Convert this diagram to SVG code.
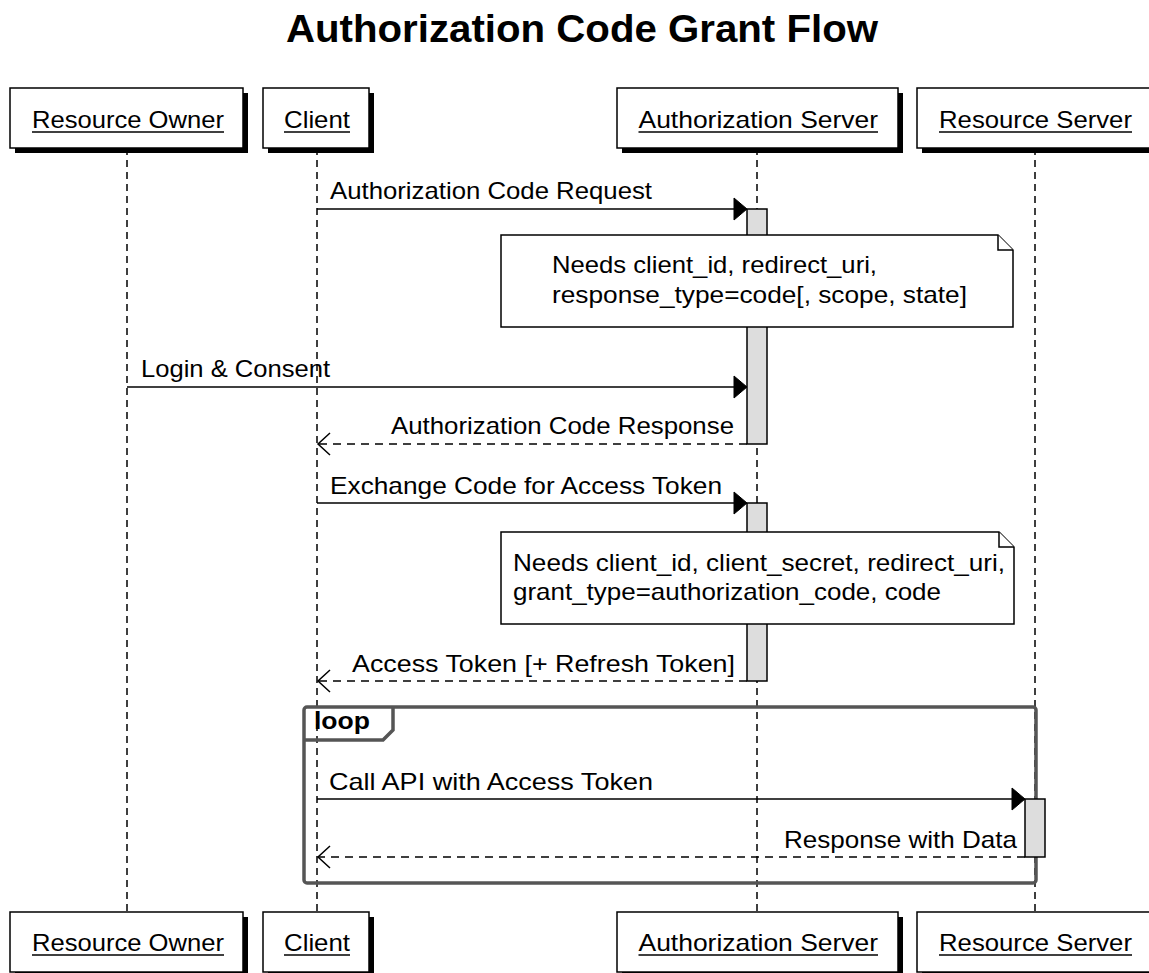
<svg xmlns="http://www.w3.org/2000/svg" width="1149" height="973" viewBox="0 0 1149 973">
<style>
  text { font-family: "Liberation Sans", Arial, sans-serif; fill: #000; }
  .title { font-size: 39px; font-weight: bold; }
  .pname { font-size: 24px; }
  .msg { font-size: 24px; }
  .note-t { font-size: 24px; }
  .loop-t { font-size: 24px; font-weight: bold; }
  .box { fill: #fff; stroke: #000; stroke-width: 1.5; }
  .shadow { fill: #000; }
  .ul { stroke: #000; stroke-width: 1.5; }
  .life { stroke: #000; stroke-width: 1.5; stroke-dasharray: 7 5; fill: none; }
  .sync { stroke: #000; stroke-width: 1.5; fill: none; }
  .ret { stroke: #000; stroke-width: 1.5; fill: none; stroke-dasharray: 8 6; }
  .head { fill: #000; stroke: #000; stroke-width: 1; }
  .open { fill: none; stroke: #000; stroke-width: 1.5; }
  .act { fill: #dddddd; stroke: #000; stroke-width: 1.5; }
  .note { fill: #fff; stroke: #000; stroke-width: 1.5; }
  .frame { fill: none; stroke: #555; stroke-width: 3.5; }
</style>

<text class="title" x="286" y="42" textLength="592" lengthAdjust="spacingAndGlyphs">Authorization Code Grant Flow</text>

<g id="lifelines">
  <line class="life" x1="127" y1="148" x2="127" y2="912"/>
  <line class="life" x1="317" y1="148" x2="317" y2="912"/>
  <line class="life" x1="757" y1="148" x2="757" y2="912"/>
  <line class="life" x1="1035" y1="148" x2="1035" y2="912"/>
</g>

<g id="loop-frame">
  <rect class="frame" x="304" y="707" width="732" height="176" rx="3"/>
  <path class="frame" d="M304,740 L383,740 L393,730 L393,707"/>
  <text class="loop-t" x="314" y="729" textLength="56" lengthAdjust="spacingAndGlyphs">loop</text>
</g>

<g id="activations">
  <rect class="act" x="747" y="209" width="20" height="235"/>
  <rect class="act" x="747" y="503" width="20" height="178"/>
  <rect class="act" x="1025" y="799" width="20" height="58"/>
</g>

<g id="note1">
  <path class="note" d="M501,235 L998,235 L1013,250 L1013,327 L501,327 Z"/>
  <path class="note" d="M998,235 L998,250 L1013,250"/>
  <text class="note-t" x="552" y="273" textLength="325" lengthAdjust="spacingAndGlyphs">Needs client_id, redirect_uri,</text>
  <text class="note-t" x="552" y="303" textLength="415" lengthAdjust="spacingAndGlyphs">response_type=code[, scope, state]</text>
</g>

<g id="note2">
  <path class="note" d="M501,532 L999,532 L1014,547 L1014,624 L501,624 Z"/>
  <path class="note" d="M999,532 L999,547 L1014,547"/>
  <text class="note-t" x="513" y="571" textLength="492" lengthAdjust="spacingAndGlyphs">Needs client_id, client_secret, redirect_uri,</text>
  <text class="note-t" x="513" y="600" textLength="428" lengthAdjust="spacingAndGlyphs">grant_type=authorization_code, code</text>
</g>

<g id="connectors">
  <line class="sync" x1="317" y1="209" x2="740" y2="209"/>
  <polygon class="head" points="734,198 747,209 734,220"/>
  <text class="msg" x="330" y="199" textLength="322" lengthAdjust="spacingAndGlyphs">Authorization Code Request</text>

  <line class="sync" x1="127" y1="387" x2="740" y2="387"/>
  <polygon class="head" points="734,376 747,387 734,398"/>
  <text class="msg" x="141" y="377" textLength="189" lengthAdjust="spacingAndGlyphs">Login &amp; Consent</text>

  <line class="ret" x1="747" y1="444" x2="318" y2="444"/>
  <polyline class="open" points="330,433 318,444 330,455"/>
  <text class="msg" x="391" y="434" textLength="343" lengthAdjust="spacingAndGlyphs">Authorization Code Response</text>

  <line class="sync" x1="317" y1="503" x2="740" y2="503"/>
  <polygon class="head" points="734,492 747,503 734,514"/>
  <text class="msg" x="330" y="494" textLength="392" lengthAdjust="spacingAndGlyphs">Exchange Code for Access Token</text>

  <line class="ret" x1="747" y1="681" x2="318" y2="681"/>
  <polyline class="open" points="330,670 318,681 330,692"/>
  <text class="msg" x="352" y="672" textLength="383" lengthAdjust="spacingAndGlyphs">Access Token [+ Refresh Token]</text>

  <line class="sync" x1="317" y1="799" x2="1018" y2="799"/>
  <polygon class="head" points="1012,788 1025,799 1012,810"/>
  <text class="msg" x="329" y="790" textLength="324" lengthAdjust="spacingAndGlyphs">Call API with Access Token</text>

  <line class="ret" x1="1025" y1="857" x2="318" y2="857"/>
  <polyline class="open" points="330,846 318,857 330,868"/>
  <text class="msg" x="784" y="848" textLength="233" lengthAdjust="spacingAndGlyphs">Response with Data</text>
</g>

<g id="p-resource-owner">
  <rect class="shadow" x="15" y="93" width="233" height="60"/>
  <rect class="box" x="10" y="88" width="233" height="60"/>
  <text class="pname" x="32" y="128" textLength="192" lengthAdjust="spacingAndGlyphs">Resource Owner</text>
  <line class="ul" x1="32" y1="132" x2="224" y2="132"/>
  <rect class="shadow" x="15" y="917" width="233" height="60"/>
  <rect class="box" x="10" y="912" width="233" height="60"/>
  <text class="pname" x="32" y="951" textLength="192" lengthAdjust="spacingAndGlyphs">Resource Owner</text>
  <line class="ul" x1="32" y1="955" x2="224" y2="955"/>
</g>

<g id="p-client">
  <rect class="shadow" x="268" y="93" width="106" height="60"/>
  <rect class="box" x="263" y="88" width="106" height="60"/>
  <text class="pname" x="284" y="128" textLength="66" lengthAdjust="spacingAndGlyphs">Client</text>
  <line class="ul" x1="284" y1="132" x2="350" y2="132"/>
  <rect class="shadow" x="268" y="917" width="106" height="60"/>
  <rect class="box" x="263" y="912" width="106" height="60"/>
  <text class="pname" x="284" y="951" textLength="66" lengthAdjust="spacingAndGlyphs">Client</text>
  <line class="ul" x1="284" y1="955" x2="350" y2="955"/>
</g>

<g id="p-authorization-server">
  <rect class="shadow" x="622" y="93" width="281" height="60"/>
  <rect class="box" x="617" y="88" width="281" height="60"/>
  <text class="pname" x="638.5" y="128" textLength="239.5" lengthAdjust="spacingAndGlyphs">Authorization Server</text>
  <line class="ul" x1="638.5" y1="132" x2="878" y2="132"/>
  <rect class="shadow" x="622" y="917" width="281" height="60"/>
  <rect class="box" x="617" y="912" width="281" height="60"/>
  <text class="pname" x="638.5" y="951" textLength="239.5" lengthAdjust="spacingAndGlyphs">Authorization Server</text>
  <line class="ul" x1="638.5" y1="955" x2="878" y2="955"/>
</g>

<g id="p-resource-server">
  <rect class="shadow" x="922" y="93" width="237" height="60"/>
  <rect class="box" x="917" y="88" width="237" height="60"/>
  <text class="pname" x="939" y="128" textLength="193" lengthAdjust="spacingAndGlyphs">Resource Server</text>
  <line class="ul" x1="939" y1="132" x2="1132" y2="132"/>
  <rect class="shadow" x="922" y="917" width="237" height="60"/>
  <rect class="box" x="917" y="912" width="237" height="60"/>
  <text class="pname" x="939" y="951" textLength="193" lengthAdjust="spacingAndGlyphs">Resource Server</text>
  <line class="ul" x1="939" y1="955" x2="1132" y2="955"/>
</g>
</svg>
